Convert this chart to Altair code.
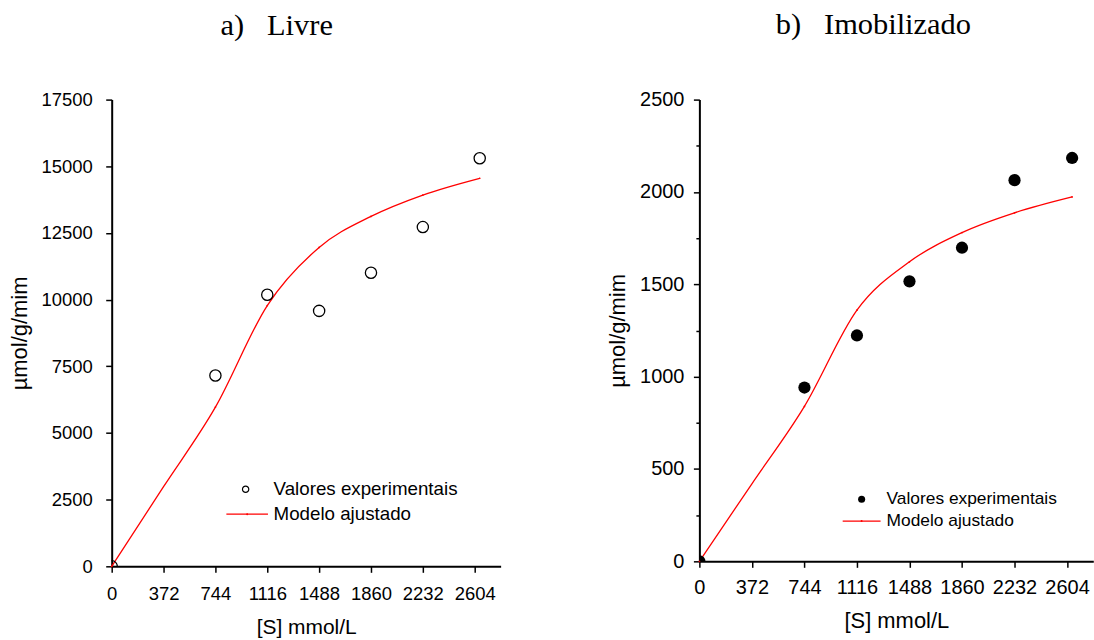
import altair as alt
import pandas as pd

# ---- data ----
s_values = [0, 744, 1116, 1488, 1860, 2232, 2640]
livre_exp = [0, 7157, 10182, 9578, 11009, 12720, 15299]
livre_fit = [0, 5967, 9778, 11956, 13121, 13922, 14551]
imob_exp = [0, 941, 1223, 1516, 1698, 2064, 2184]
imob_fit = [0, 839, 1360, 1622, 1780, 1887, 1973]

# fitted curve (including its straight start)
curve_s = [0, 372, 744, 1116, 1488, 1860, 2232, 2640]
livre_curve = [0, 2987, 5967, 9778, 11956, 13121, 13922, 14551]
imob_curve = [0, 420, 839, 1360, 1622, 1780, 1887, 1973]

x_ticks = [0, 186, 372, 558, 744, 930, 1116, 1302, 1488, 1674, 1860, 2046,
           2232, 2418, 2604, 2790]
livre_yticks = [0, 1250, 2500, 3750, 5000, 6250, 7500, 8750, 10000, 11250,
                12500, 13750, 15000, 16250, 17500]
imob_yticks = [0, 250, 500, 750, 1000, 1250, 1500, 1750, 2000, 2250, 2500]

legend_labels = ["Valores experimentais", "Modelo ajustado"]
titles = ["a)\u00a0\u00a0\u00a0Livre", "b)\u00a0\u00a0\u00a0Imobilizado"]
x_title = "[S] mmol/L"
y_title = "\u00b5mol/g/mim"

SANS = "Liberation Sans"
SERIF = "Liberation Serif"


def make_panel(exp, fit, curve_vals, ydomain, yticks, ymajor, filled, title, title_dx,
               width, height, tick_fs, xtitle_fs, ytitle_fs, legend_fs,
               x_lab_pad, y_lab_pad, x_title_pad, y_title_pad, leg):
    df = pd.DataFrame({"S": s_values, "exp": exp, "fit": fit})
    dfc = pd.DataFrame({"S": curve_s, "fit": curve_vals})
    base = alt.Chart(df)

    x_enc = alt.X(
        "S:Q",
        scale=alt.Scale(domain=[0, 2790], nice=False, zero=False),
        axis=alt.Axis(
            values=x_ticks, format="d", title=x_title,
            labelExpr="datum.value % 372 === 0 ? datum.label : ''",
            tickSize={"condition": {"test": "datum.value % 372 === 0", "value": 6}, "value": 3.5},
            grid=False, domainColor="black", domainWidth=2, tickColor="black",
            tickWidth=1.5, labelColor="black", labelFont=SANS, labelFontSize=tick_fs,
            labelPadding=x_lab_pad, labelOverlap=False, labelFlush=False,
            titleFont=SANS, titleFontSize=xtitle_fs, titleFontWeight="normal",
            titleColor="black", titlePadding=x_title_pad,
        ),
    )
    y_common = dict(
        scale=alt.Scale(domain=ydomain, nice=False, zero=False),
        axis=alt.Axis(
            values=yticks, format="d", title=y_title,
            labelExpr=f"datum.value % {ymajor} === 0 ? datum.label : ''",
            tickSize={"condition": {"test": f"datum.value % {ymajor} === 0", "value": 6}, "value": 3.5},
            grid=False, domainColor="black", domainWidth=2, tickColor="black",
            tickWidth=1.5, labelColor="black", labelFont=SANS, labelFontSize=tick_fs,
            labelPadding=y_lab_pad, labelOverlap=False, labelFlush=False,
            titleFont=SANS, titleFontSize=ytitle_fs, titleFontWeight="normal",
            titleColor="black", titlePadding=y_title_pad,
        ),
    )

    curve = alt.Chart(dfc).mark_line(color="#ff0000", strokeWidth=1.3,
                                     interpolate="monotone").encode(
        x=x_enc, y=alt.Y("fit:Q", **y_common)
    )
    curve_dots = base.mark_point(filled=True, color="#ff0000", size=3, opacity=1).encode(
        x="S:Q", y="fit:Q"
    )
    if filled:
        pts = base.mark_point(shape="circle", filled=True, color="black", size=150,
                              opacity=1, clip=True)
    else:
        pts = base.mark_point(shape="circle", filled=False, color="black", size=127,
                              strokeWidth=1.3, opacity=1, clip=True)
    pts = pts.encode(x="S:Q", y="exp:Q")

    one = alt.Chart(pd.DataFrame({"label": [legend_labels[0]]}))
    two = alt.Chart(pd.DataFrame({"label": [legend_labels[1]]}))
    if filled:
        leg_sym = one.mark_point(shape="circle", filled=True, color="black", size=50, opacity=1)
    else:
        leg_sym = one.mark_point(shape="circle", filled=False, color="black", size=40,
                                 strokeWidth=1.2, opacity=1)
    leg_sym = leg_sym.encode(x=alt.value(leg["sym_x"]), y=alt.value(leg["y1"]))
    leg_t1 = one.mark_text(align="left", baseline="middle", font=SANS, fontSize=legend_fs,
                           color="black").encode(
        x=alt.value(leg["text_x"]), y=alt.value(leg["y1"]), text="label:N")
    leg_line = two.mark_rule(color="#ff0000", strokeWidth=1.3).encode(
        x=alt.value(leg["line_x1"]), x2=alt.value(leg["line_x2"]), y=alt.value(leg["y2"]))
    leg_dot = two.mark_point(filled=True, color="#ff0000", size=4, opacity=1).encode(
        x=alt.value((leg["line_x1"] + leg["line_x2"]) / 2), y=alt.value(leg["y2"]))
    leg_t2 = two.mark_text(align="left", baseline="middle", font=SANS, fontSize=legend_fs,
                           color="black").encode(
        x=alt.value(leg["text_x"]), y=alt.value(leg["y2"]), text="label:N")

    return alt.layer(curve, curve_dots, pts, leg_sym, leg_t1, leg_line, leg_dot, leg_t2).properties(
        width=width, height=height,
        title=alt.TitleParams(title, font=SERIF, fontSize=30.5, fontWeight="normal",
                              color="black", anchor="middle", dx=title_dx, offset=25.5,
                              baseline="alphabetic"),
    )


left = make_panel(livre_exp, livre_fit, livre_curve, [0, 17500], livre_yticks, 2500, False,
                  titles[0], -29.5, 390, 468, 18.5, 21, 22, 18.8,
                  12.5, 13.5, 13, 9,
                  dict(sym_x=134.3, text_x=162.3, y1=390.7, y2=415.7,
                       line_x1=115, line_x2=156.7))
right = make_panel(imob_exp, imob_fit, imob_curve, [0, 2500], imob_yticks, 500, True,
                   titles[1], -23, 395, 463, 20, 22, 22, 17.4,
                   10, 9.5, 13, 10,
                   dict(sym_x=162.7, text_x=187.7, y1=400.7, y2=422.6,
                        line_x1=143.7, line_x2=181.7))

chart = alt.hconcat(left, right, spacing=199.3, bounds="flush").properties(
    padding={"left": 9, "top": 9, "right": 0, "bottom": 0},
    background="white",
).configure_view(stroke=None)

chart.save("out.html", embed_options={"renderer": "svg", "actions": False})
